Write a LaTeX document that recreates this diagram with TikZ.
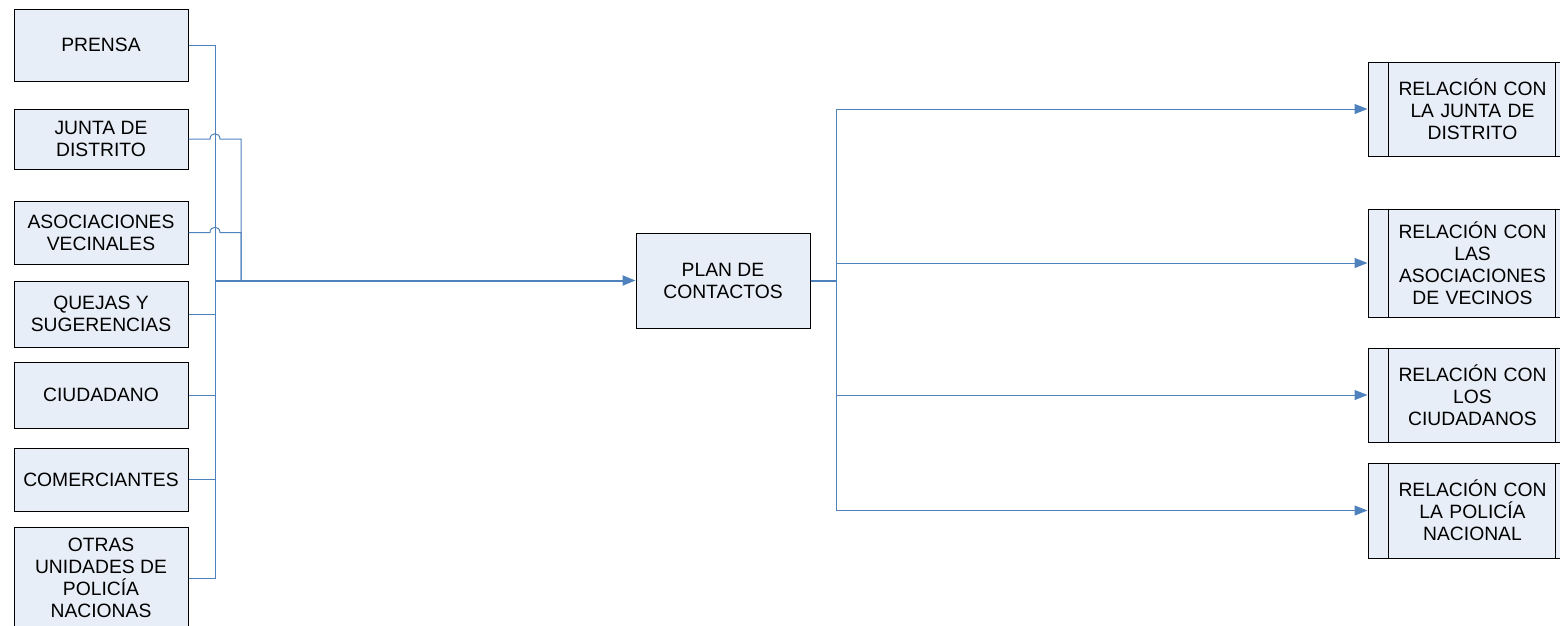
\documentclass[tikz,border=0pt]{standalone}
\usepackage{fontspec}
\setmainfont{Liberation Sans}
\usetikzlibrary{arrows.meta}
\definecolor{conn}{HTML}{4F81BD}
\definecolor{boxfill}{HTML}{E8EEF7}
\tikzset{
  src/.style={draw=black, line width=1pt, fill=boxfill, minimum width=174pt, align=center, inner sep=2pt, font=\fontsize{19.3}{22}\selectfont},
  proc/.style={src, minimum width=209pt, text width=166pt},
  wire/.style={draw=conn, line width=1pt},
  mainwire/.style={draw=conn, line width=2pt},
  arr/.style={-{Triangle[length=13pt,width=10pt]}}
}
\begin{document}
\begin{tikzpicture}[x=1pt,y=-1pt]
\useasboundingbox (0,0) rectangle (1560,625);
\clip (0,0) rectangle (1560,625);
% left sources
\node[src, minimum height=72pt] (prensa) at (101,45) {PRENSA};
\node[src, minimum height=60pt] (junta) at (101,139) {JUNTA DE\\DISTRITO};
\node[src, minimum height=63pt] (asoc) at (101,232.5) {ASOCIACIONES\\VECINALES};
\node[src, minimum height=66pt] (quejas) at (101,314) {QUEJAS Y\\SUGERENCIAS};
\node[src, minimum height=66pt] (ciud) at (101,395) {CIUDADANO};
\node[src, minimum height=63pt] (comer) at (101,479.5) {COMERCIANTES};
\node[src, minimum height=102pt] (otras) at (101,578) {OTRAS\\UNIDADES DE\\POLICÍA\\NACIONAS};
% plan
\node[src, minimum height=95pt] (plan) at (723,280.5) {PLAN DE\\CONTACTOS};
% right processes
\foreach \n/\y/\h/\t in {r1/109/94/{RELACIÓN CON\\LA JUNTA DE\\DISTRITO},
                          r2/263/108/{RELACIÓN CON\\LAS\\ASOCIACIONES\\DE VECINOS},
                          r3/395/94/{RELACIÓN CON\\LOS\\CIUDADANOS},
                          r4/510.5/95/{RELACIÓN CON\\LA POLICÍA\\NACIONAL}}{
  \node[proc, minimum height=\h pt] (\n) at (1472.5,\y) {\t};
  \draw[line width=1pt] ([xshift=21pt]\n.north west) -- ([xshift=21pt]\n.south west);
  \draw[line width=1pt] ([xshift=-22pt]\n.north east) -- ([xshift=-22pt]\n.south east);
}
% junction coordinates
\coordinate (jL) at (215,280.5);
\coordinate (jR) at (241,280.5);
% left wiring
\draw[wire] (prensa.east) -| (jL);
\draw[wire] (quejas.east) -| (jL);
\draw[wire] (ciud.east) -| (jL);
\draw[wire] (comer.east) -| (jL);
\draw[wire] (otras.east) -| (jL);
\draw[wire] (junta.east) -- (210,139) .. controls (210,132) and (220,132) .. (220,139) -| (jR);
\draw[wire] (asoc.east) -- (210,232.5) .. controls (210,225.5) and (220,225.5) .. (220,232.5) -| (jR);
\draw[mainwire, arr] (jL) -- (plan.west);
% right wiring
\foreach \n in {r1,r2,r3,r4}{
  \draw[wire, arr] (plan.east) -- ++(26,0) |- (\n.west);
}
\draw[mainwire] (plan.east) -- ++(26,0);
\end{tikzpicture}
\end{document}
